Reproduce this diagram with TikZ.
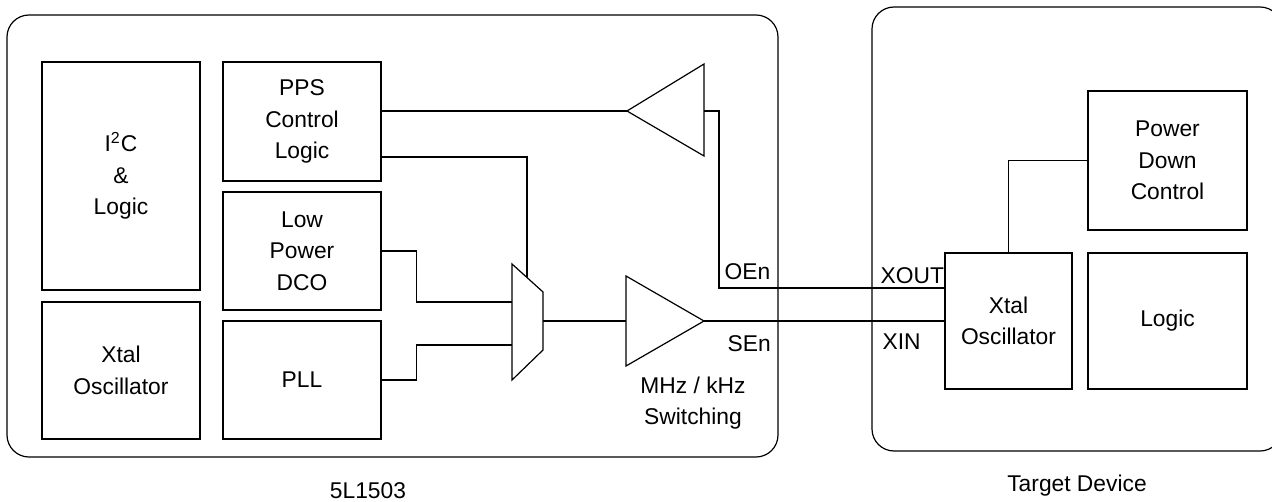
\documentclass[tikz,border=0pt]{standalone}
\usepackage{fontspec}
\setmainfont{Liberation Sans}
\usetikzlibrary{positioning, calc}

\begin{document}
\begin{tikzpicture}[
    x=0.5pt, y=-0.5pt,
    line width=0.6pt,
    font=\fontsize{11.4}{15.8}\selectfont,
    box/.style={draw, fill=white, align=center, inner sep=0pt},
    chip/.style={draw, rounded corners=11pt, inner sep=0pt},
    pin/.style={inner sep=0pt, anchor=base west}
]
    \clip (0,0) rectangle (1272,502);
    % outer devices
    \node[chip, minimum width=385.5pt, minimum height=221pt] (dev) at (392.5,236) {};
    \node[chip, minimum width=205pt, minimum height=222pt] (target) at (1077,229) {};
    \node (devname) at (368,491) {5L1503};
    \node (targetname) at (1077,486) {Target Device};

    % blocks of 5L1503
    \node[box, minimum width=79pt, minimum height=114pt] (i2c) at (121,176) {I\textsuperscript{2}C\\\&\\Logic};
    \node[box, minimum width=79pt, minimum height=68.5pt] (xtal) at (121,370.5) {Xtal\\Oscillator};
    \node[box, minimum width=79pt, minimum height=59.5pt] (pps) at (302,121.5) {PPS\\Control\\Logic};
    \node[box, minimum width=79pt, minimum height=59pt] (dco) at (302,251) {Low\\Power\\DCO};
    \node[box, minimum width=79pt, minimum height=59pt] (pll) at (302,380) {PLL};

    % blocks of target device
    \node[box, minimum width=79.5pt, minimum height=69.5pt] (pdc) at (1167.5,160.5) {Power\\Down\\Control};
    \node[box, minimum width=79.5pt, minimum height=68pt] (logic) at (1167.5,321) {Logic};
    \node[box, minimum width=63.5pt, minimum height=68pt] (osc) at (1008.5,321) {Xtal\\Oscillator};

    % OE buffer
    \coordinate (oetip) at (627,111);
    \coordinate (oeback) at (704,111);
    \draw (oetip) -- (704,64) -- (704,156) -- cycle;
    % mux
    \coordinate (selin) at (527,277);
    \coordinate (muxin1) at (512,302);
    \coordinate (muxin2) at (512,345);
    \coordinate (muxout) at (543,321);
    \draw (512,264) -- (543,292) -- (543,350) -- (512,380) -- cycle;
    % SE buffer
    \coordinate (seback) at (626,321);
    \coordinate (setip) at (704,321);
    \draw (626,276) -- (setip) -- (626,366) -- cycle;

    % connections
    \coordinate (oejog) at (719,288);
    \draw (pps.east |- oetip) -- (oetip);
    \draw (oeback) -| (oejog) -- (oejog -| osc.west);
    \draw ([yshift=-17.75pt]pps.east) -| (selin);
    \draw (dco.east) -- ++(17.5pt,0) |- (muxin1);
    \draw (pll.east) -- ++(17.5pt,0) |- (muxin2);
    \draw (muxout) -- (seback);
    \draw (setip) -- (osc.west);
    \draw (osc.north) |- (pdc.west);

    % pin labels
    \node[pin] (oen) at (724,279) {OEn};
    \node[pin] (sen) at (727,351) {SEn};
    \node[pin] (xout) at (880,283) {XOUT};
    \node[pin] (xin) at (882,349) {XIN};
    \node[align=center, inner sep=0pt] (switching) at (693,403) {MHz / kHz\\Switching};
\end{tikzpicture}
\end{document}
